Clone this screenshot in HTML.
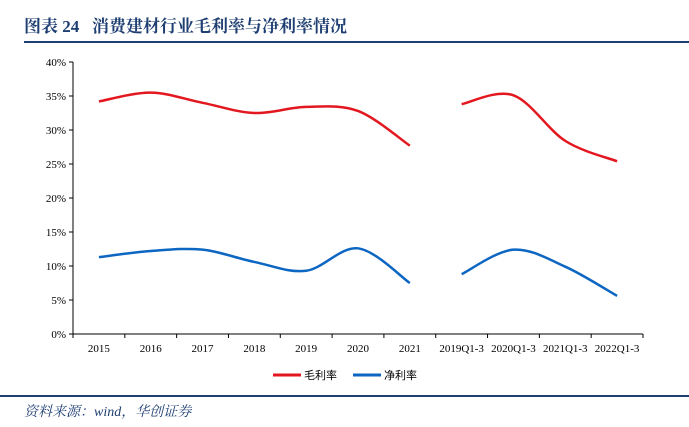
<!DOCTYPE html>
<html><head><meta charset="utf-8"><style>
body{margin:0;background:#fff;width:689px;height:427px;overflow:hidden;position:relative;font-family:"Liberation Serif","Noto Serif CJK SC",serif}
#title{position:absolute;left:24px;top:12px;font-size:17px;font-weight:bold;color:#1f3f73;letter-spacing:0px}
#src{position:absolute;left:24px;top:401px;font-size:14px;font-style:italic;color:#1f3f73}
</style></head><body>
<div id="title">图表 24&nbsp;&nbsp;&nbsp;消费建材行业毛利率与净利率情况</div>
<svg id="c" width="689" height="427" style="position:absolute;left:0;top:0">
<line x1="24" y1="42" x2="689" y2="42" stroke="#1f3f73" stroke-width="2"/>
<line x1="0" y1="396" x2="689" y2="396" stroke="#1f3f73" stroke-width="2"/>
</svg>
<div id="src">资料来源：wind，华创证券</div>
<script>
const categories=["2015","2016","2017","2018","2019","2020","2021","2019Q1-3","2020Q1-3","2021Q1-3","2022Q1-3"];
const grossMargin=[34.2,35.5,34.0,32.5,33.4,32.8,27.7,33.8,35.1,28.4,25.4];
const netMargin=[11.3,12.2,12.4,10.6,9.3,12.6,7.5,8.8,12.4,9.9,5.6];
const yTicks=[0,5,10,15,20,25,30,35,40];
const segments=[[0,6],[7,10]];
const NS="http://www.w3.org/2000/svg";
const svg=document.getElementById('c');
const x0=73,x1=643,y0=334,y1=62,bw=(x1-x0)/categories.length;
const X=i=>x0+bw*(i+0.5);
const Y=v=>y0-(v-0)/(40-0)*(y0-y1);
function el(t,a){const e=document.createElementNS(NS,t);for(const k in a)e.setAttribute(k,a[k]);svg.appendChild(e);return e;}
let ax=el('line',{x1:x0,y1:y0,x2:x1,y2:y0,stroke:'#000','stroke-width':1});


let ay=el('line',{x1:x0,y1:y0,x2:x0,y2:y1,stroke:'#000','stroke-width':1});


yTicks.forEach(v=>{
 el('line',{x1:x0-4,y1:Y(v),x2:x0,y2:Y(v),stroke:'#000'});
 const t=el('text',{x:x0-7,y:Y(v)+4,'text-anchor':'end','font-size':11,fill:'#000'});t.textContent=v+'%';
 
 
});
for(let i=0;i<=categories.length;i++)el('line',{x1:x0+bw*i,y1:y0,x2:x0+bw*i,y2:y0+4,stroke:'#000'});
categories.forEach((c,i)=>{const t=el('text',{x:X(i),y:y0+18,'text-anchor':'middle','font-size':11,fill:'#000'});t.textContent=c;
 
 });
function path(vals){let d='';segments.forEach(([a,b])=>{const p=[];for(let i=a;i<=b;i++)p.push([X(i),Y(vals[i])]);
 d+='M'+p[0][0]+','+p[0][1];
 for(let i=0;i<p.length-1;i++){const q0=p[Math.max(i-1,0)],q1=p[i],q2=p[i+1],q3=p[Math.min(i+2,p.length-1)];
  d+=` C${q1[0]+(q2[0]-q0[0])/6},${q1[1]+(q2[1]-q0[1])/6} ${q2[0]-(q3[0]-q1[0])/6},${q2[1]-(q3[1]-q1[1])/6} ${q2[0]},${q2[1]}`;}});return d;}
let g=el('path',{d:path(grossMargin),fill:'none',stroke:'#e3171f','stroke-width':2.5});


let n=el('path',{d:path(netMargin),fill:'none',stroke:'#0c66c2','stroke-width':2.5});


[[273,'#e3171f','毛利率','legend-gross-margin'],[353,'#0c66c2','净利率','legend-net-margin']].forEach(([lx,col,lab,nm])=>{
 const l=el('line',{x1:lx,y1:375,x2:lx+28,y2:375,stroke:col,'stroke-width':3});
 
 
 const t=el('text',{x:lx+31,y:379,'font-size':11,fill:'#000','font-family':'"Noto Sans CJK SC",sans-serif'});t.textContent=lab;
 
 
});
</script>
</body></html>
